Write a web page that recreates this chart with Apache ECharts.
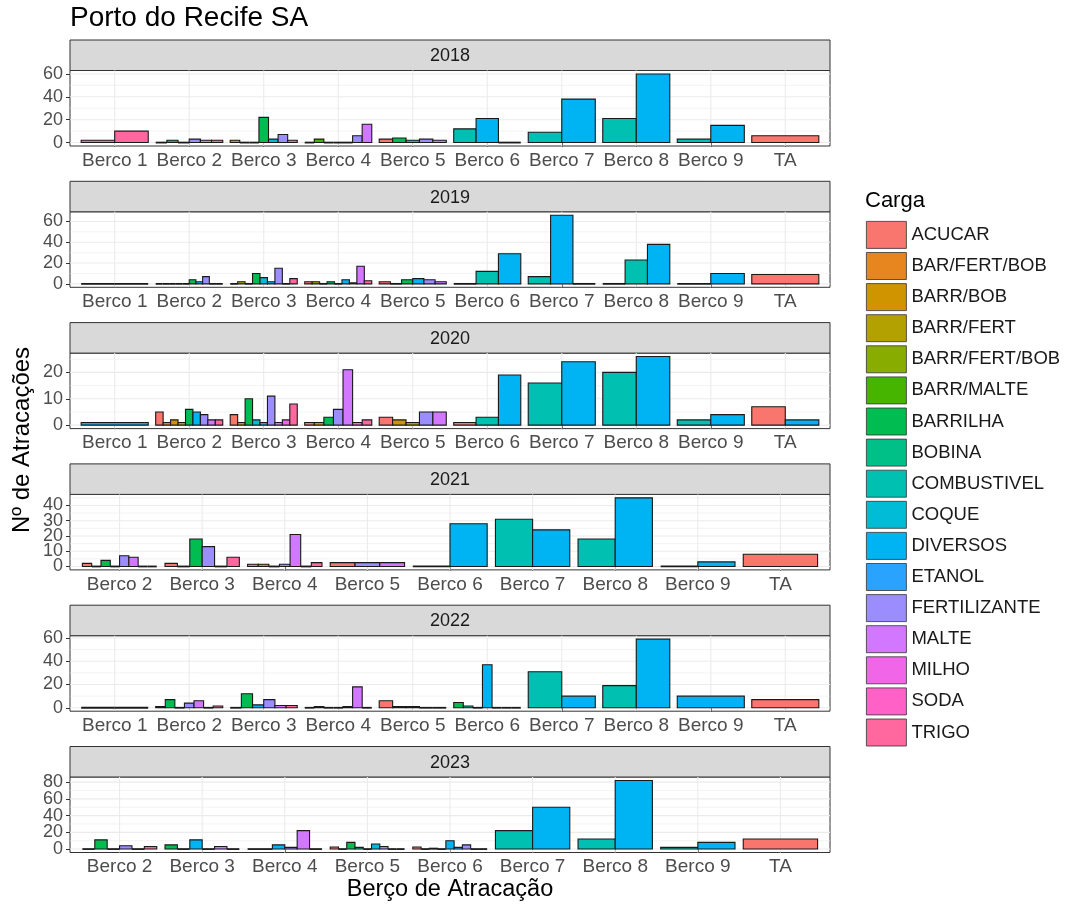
<!DOCTYPE html>
<html>
<head>
<meta charset="utf-8">
<title>Porto do Recife SA</title>
<script src="https://cdn.jsdelivr.net/npm/echarts@6/dist/echarts.min.js"></script>
<style>
  html, body { margin: 0; padding: 0; background: #fff; }
  #chart { width: 1066px; height: 905px; }
</style>
</head>
<body>
<div id="chart"></div>
<script>
// niveis da carga (ordem da legenda)
const cargas = ['ACUCAR', 'BAR/FERT/BOB', 'BARR/BOB', 'BARR/FERT', 'BARR/FERT/BOB', 'BARR/MALTE',
  'BARRILHA', 'BOBINA', 'COMBUSTIVEL', 'COQUE', 'DIVERSOS', 'ETANOL', 'FERTILIZANTE',
  'MALTE', 'MILHO', 'SODA', 'TRIGO'];

const anos = ['2018', '2019', '2020', '2021', '2022', '2023'];

const bercosCompleto = ['Berco 1', 'Berco 2', 'Berco 3', 'Berco 4', 'Berco 5', 'Berco 6', 'Berco 7', 'Berco 8', 'Berco 9', 'TA'];
const bercosSem1 = ['Berco 2', 'Berco 3', 'Berco 4', 'Berco 5', 'Berco 6', 'Berco 7', 'Berco 8', 'Berco 9', 'TA'];

const ticks2018 = [0, 20, 40, 60];
const ticks2019 = [0, 20, 40, 60];
const ticks2020 = [0, 10, 20];
const ticks2021 = [0, 10, 20, 30, 40];
const ticks2022 = [0, 20, 40, 60];
const ticks2023 = [0, 20, 40, 60, 80];

// [berco, carga, n de atracacoes]
const barras2018 = [
  ['Berco 1', 'SODA', 2], ['Berco 1', 'TRIGO', 10],
  ['Berco 2', 'BARR/FERT', 0], ['Berco 2', 'BARRILHA', 2], ['Berco 2', 'COQUE', 0], ['Berco 2', 'FERTILIZANTE', 3], ['Berco 2', 'MALTE', 2], ['Berco 2', 'TRIGO', 2],
  ['Berco 3', 'BARR/BOB', 2], ['Berco 3', 'BARR/FERT', 0], ['Berco 3', 'BARR/MALTE', 0], ['Berco 3', 'BARRILHA', 22], ['Berco 3', 'COQUE', 3], ['Berco 3', 'FERTILIZANTE', 7], ['Berco 3', 'TRIGO', 2],
  ['Berco 4', 'BARR/FERT', 0], ['Berco 4', 'BARR/MALTE', 3], ['Berco 4', 'BARRILHA', 0], ['Berco 4', 'BOBINA', 0], ['Berco 4', 'DIVERSOS', 0], ['Berco 4', 'FERTILIZANTE', 6], ['Berco 4', 'MALTE', 16],
  ['Berco 5', 'ACUCAR', 3], ['Berco 5', 'BARRILHA', 4], ['Berco 5', 'DIVERSOS', 2], ['Berco 5', 'FERTILIZANTE', 3], ['Berco 5', 'MALTE', 2],
  ['Berco 6', 'COMBUSTIVEL', 12], ['Berco 6', 'DIVERSOS', 21], ['Berco 6', 'ETANOL', 0],
  ['Berco 7', 'COMBUSTIVEL', 9], ['Berco 7', 'DIVERSOS', 38],
  ['Berco 8', 'COMBUSTIVEL', 21], ['Berco 8', 'DIVERSOS', 60],
  ['Berco 9', 'COMBUSTIVEL', 3], ['Berco 9', 'DIVERSOS', 15],
  ['TA', 'ACUCAR', 6]
];

const barras2019 = [
  ['Berco 1', 'SODA', 0], ['Berco 1', 'TRIGO', 0],
  ['Berco 2', 'ACUCAR', 0], ['Berco 2', 'BAR/FERT/BOB', 0], ['Berco 2', 'BARR/BOB', 0], ['Berco 2', 'BARR/FERT', 0], ['Berco 2', 'BARR/MALTE', 0],
  ['Berco 2', 'BARRILHA', 4], ['Berco 2', 'DIVERSOS', 2], ['Berco 2', 'FERTILIZANTE', 7], ['Berco 2', 'MALTE', 0], ['Berco 2', 'TRIGO', 0],
  ['Berco 3', 'BARR/BOB', 0], ['Berco 3', 'BARR/FERT', 2], ['Berco 3', 'BARR/MALTE', 0], ['Berco 3', 'BARRILHA', 10], ['Berco 3', 'COQUE', 6],
  ['Berco 3', 'DIVERSOS', 2], ['Berco 3', 'FERTILIZANTE', 15], ['Berco 3', 'MALTE', 0], ['Berco 3', 'TRIGO', 5],
  ['Berco 4', 'ACUCAR', 2], ['Berco 4', 'BARR/FERT', 2], ['Berco 4', 'BARR/MALTE', 0], ['Berco 4', 'BARRILHA', 2], ['Berco 4', 'COQUE', 0],
  ['Berco 4', 'DIVERSOS', 4], ['Berco 4', 'FERTILIZANTE', 1], ['Berco 4', 'MALTE', 17], ['Berco 4', 'TRIGO', 3],
  ['Berco 5', 'ACUCAR', 2], ['Berco 5', 'BARR/MALTE', 0], ['Berco 5', 'BARRILHA', 4], ['Berco 5', 'DIVERSOS', 5], ['Berco 5', 'FERTILIZANTE', 4], ['Berco 5', 'MALTE', 2],
  ['Berco 6', 'ACUCAR', 0], ['Berco 6', 'COMBUSTIVEL', 12], ['Berco 6', 'DIVERSOS', 29],
  ['Berco 7', 'COMBUSTIVEL', 7], ['Berco 7', 'DIVERSOS', 66], ['Berco 7', 'ETANOL', 0],
  ['Berco 8', 'ACUCAR', 0], ['Berco 8', 'COMBUSTIVEL', 23], ['Berco 8', 'DIVERSOS', 38],
  ['Berco 9', 'COMBUSTIVEL', 0], ['Berco 9', 'DIVERSOS', 10],
  ['TA', 'ACUCAR', 9]
];

const barras2020 = [
  ['Berco 1', 'DIVERSOS', 1],
  ['Berco 2', 'ACUCAR', 5], ['Berco 2', 'BAR/FERT/BOB', 1], ['Berco 2', 'BARR/BOB', 2], ['Berco 2', 'BARR/FERT', 1], ['Berco 2', 'BARRILHA', 6],
  ['Berco 2', 'DIVERSOS', 5], ['Berco 2', 'FERTILIZANTE', 4], ['Berco 2', 'MALTE', 2], ['Berco 2', 'TRIGO', 2],
  ['Berco 3', 'ACUCAR', 4], ['Berco 3', 'BARR/FERT', 1], ['Berco 3', 'BARRILHA', 10], ['Berco 3', 'COQUE', 2], ['Berco 3', 'DIVERSOS', 1],
  ['Berco 3', 'FERTILIZANTE', 11], ['Berco 3', 'MALTE', 1], ['Berco 3', 'MILHO', 2], ['Berco 3', 'TRIGO', 8],
  ['Berco 4', 'ACUCAR', 1], ['Berco 4', 'BARR/BOB', 1], ['Berco 4', 'BARRILHA', 3], ['Berco 4', 'FERTILIZANTE', 6], ['Berco 4', 'MALTE', 21], ['Berco 4', 'MILHO', 1], ['Berco 4', 'TRIGO', 2],
  ['Berco 5', 'ACUCAR', 3], ['Berco 5', 'BARR/BOB', 2], ['Berco 5', 'BARR/FERT', 1], ['Berco 5', 'FERTILIZANTE', 5], ['Berco 5', 'MALTE', 5],
  ['Berco 6', 'ACUCAR', 1], ['Berco 6', 'COMBUSTIVEL', 3], ['Berco 6', 'DIVERSOS', 19],
  ['Berco 7', 'COMBUSTIVEL', 16], ['Berco 7', 'DIVERSOS', 24],
  ['Berco 8', 'COMBUSTIVEL', 20], ['Berco 8', 'DIVERSOS', 26],
  ['Berco 9', 'COMBUSTIVEL', 2], ['Berco 9', 'DIVERSOS', 4],
  ['TA', 'ACUCAR', 7], ['TA', 'DIVERSOS', 2]
];

const barras2021 = [
  ['Berco 2', 'ACUCAR', 2], ['Berco 2', 'BARR/FERT', 0], ['Berco 2', 'BARRILHA', 4], ['Berco 2', 'DIVERSOS', 0],
  ['Berco 2', 'FERTILIZANTE', 7], ['Berco 2', 'MALTE', 6], ['Berco 2', 'SODA', 0], ['Berco 2', 'TRIGO', 0],
  ['Berco 3', 'ACUCAR', 2], ['Berco 3', 'BARR/FERT', 0], ['Berco 3', 'BARRILHA', 18], ['Berco 3', 'FERTILIZANTE', 13], ['Berco 3', 'MALTE', 0], ['Berco 3', 'TRIGO', 6],
  ['Berco 4', 'ACUCAR', 1.5], ['Berco 4', 'BARR/FERT', 1.5], ['Berco 4', 'BARRILHA', 0], ['Berco 4', 'FERTILIZANTE', 1.5], ['Berco 4', 'MALTE', 21], ['Berco 4', 'SODA', 0], ['Berco 4', 'TRIGO', 2.5],
  ['Berco 5', 'ACUCAR', 2.5], ['Berco 5', 'FERTILIZANTE', 2.5], ['Berco 5', 'MALTE', 2.5],
  ['Berco 6', 'COMBUSTIVEL', 0], ['Berco 6', 'DIVERSOS', 28],
  ['Berco 7', 'COMBUSTIVEL', 31], ['Berco 7', 'DIVERSOS', 24],
  ['Berco 8', 'COMBUSTIVEL', 18], ['Berco 8', 'DIVERSOS', 45],
  ['Berco 9', 'COMBUSTIVEL', 0], ['Berco 9', 'DIVERSOS', 3],
  ['TA', 'ACUCAR', 8]
];

const barras2022 = [
  ['Berco 1', 'SODA', 0], ['Berco 1', 'TRIGO', 0],
  ['Berco 2', 'ACUCAR', 1], ['Berco 2', 'BARRILHA', 7], ['Berco 2', 'DIVERSOS', 0], ['Berco 2', 'FERTILIZANTE', 4], ['Berco 2', 'MALTE', 6], ['Berco 2', 'SODA', 0], ['Berco 2', 'TRIGO', 1.5],
  ['Berco 3', 'BARR/FERT', 0], ['Berco 3', 'BARRILHA', 12], ['Berco 3', 'DIVERSOS', 2.5], ['Berco 3', 'FERTILIZANTE', 7], ['Berco 3', 'MALTE', 2], ['Berco 3', 'TRIGO', 2],
  ['Berco 4', 'BARR/FERT', 0], ['Berco 4', 'BARRILHA', 1], ['Berco 4', 'COMBUSTIVEL', 0], ['Berco 4', 'DIVERSOS', 0], ['Berco 4', 'FERTILIZANTE', 1], ['Berco 4', 'MALTE', 18], ['Berco 4', 'TRIGO', 0],
  ['Berco 5', 'ACUCAR', 6], ['Berco 5', 'BARRILHA', 1], ['Berco 5', 'FERTILIZANTE', 1], ['Berco 5', 'MALTE', 0], ['Berco 5', 'TRIGO', 0],
  ['Berco 6', 'BARRILHA', 4.5], ['Berco 6', 'COMBUSTIVEL', 1.5], ['Berco 6', 'COQUE', 0], ['Berco 6', 'DIVERSOS', 37],
  ['Berco 6', 'FERTILIZANTE', 0], ['Berco 6', 'MALTE', 0], ['Berco 6', 'TRIGO', 0],
  ['Berco 7', 'COMBUSTIVEL', 31], ['Berco 7', 'DIVERSOS', 10],
  ['Berco 8', 'COMBUSTIVEL', 19], ['Berco 8', 'DIVERSOS', 59],
  ['Berco 9', 'DIVERSOS', 10],
  ['TA', 'ACUCAR', 7]
];

const barras2023 = [
  ['Berco 2', 'BARR/FERT', 0], ['Berco 2', 'BARRILHA', 11], ['Berco 2', 'COQUE', 0], ['Berco 2', 'FERTILIZANTE', 4], ['Berco 2', 'SODA', 0], ['Berco 2', 'TRIGO', 3],
  ['Berco 3', 'BARRILHA', 5], ['Berco 3', 'COMBUSTIVEL', 0], ['Berco 3', 'DIVERSOS', 11], ['Berco 3', 'FERTILIZANTE', 0], ['Berco 3', 'MALTE', 3], ['Berco 3', 'TRIGO', 0],
  ['Berco 4', 'BARRILHA', 0], ['Berco 4', 'COMBUSTIVEL', 0], ['Berco 4', 'DIVERSOS', 5], ['Berco 4', 'FERTILIZANTE', 2], ['Berco 4', 'MALTE', 22], ['Berco 4', 'TRIGO', 0],
  ['Berco 5', 'ACUCAR', 2.5], ['Berco 5', 'BARR/FERT', 0], ['Berco 5', 'BARRILHA', 8], ['Berco 5', 'BOBINA', 2], ['Berco 5', 'COQUE', 0],
  ['Berco 5', 'DIVERSOS', 6], ['Berco 5', 'FERTILIZANTE', 3], ['Berco 5', 'MALTE', 0], ['Berco 5', 'TRIGO', 0],
  ['Berco 6', 'ACUCAR', 2.5], ['Berco 6', 'BAR/FERT/BOB', 0], ['Berco 6', 'BARRILHA', 1], ['Berco 6', 'COQUE', 0], ['Berco 6', 'DIVERSOS', 10],
  ['Berco 6', 'ETANOL', 2], ['Berco 6', 'FERTILIZANTE', 5], ['Berco 6', 'MALTE', 0], ['Berco 6', 'TRIGO', 0],
  ['Berco 7', 'COMBUSTIVEL', 22], ['Berco 7', 'DIVERSOS', 50],
  ['Berco 8', 'COMBUSTIVEL', 12], ['Berco 8', 'DIVERSOS', 82],
  ['Berco 9', 'COMBUSTIVEL', 2], ['Berco 9', 'DIVERSOS', 8],
  ['TA', 'ACUCAR', 12]
];

const facetas = [
  { ano: anos[0], bercos: bercosCompleto, barras: barras2018, ticks: ticks2018 },
  { ano: anos[1], bercos: bercosCompleto, barras: barras2019, ticks: ticks2019 },
  { ano: anos[2], bercos: bercosCompleto, barras: barras2020, ticks: ticks2020 },
  { ano: anos[3], bercos: bercosSem1, barras: barras2021, ticks: ticks2021 },
  { ano: anos[4], bercos: bercosCompleto, barras: barras2022, ticks: ticks2022 },
  { ano: anos[5], bercos: bercosSem1, barras: barras2023, ticks: ticks2023 }
];

// paleta hue do ggplot (hcl, c = 100, l = 65)
function hclHex (h, c, l) {
  const Xn = 95.047, Yn = 100, Zn = 108.883;
  const un = 4 * Xn / (Xn + 15 * Yn + 3 * Zn);
  const vn = 9 * Yn / (Xn + 15 * Yn + 3 * Zn);
  const hr = h * Math.PI / 180;
  const Y = Yn * (l > 8 ? Math.pow((l + 16) / 116, 3) : l / 903.3);
  const u = c * Math.cos(hr) / (13 * l) + un;
  const v = c * Math.sin(hr) / (13 * l) + vn;
  const X = 9 * Y * u / (4 * v);
  const Z = Y * (12 - 3 * u - 20 * v) / (4 * v);
  const lin = [
    (3.240479 * X - 1.537150 * Y - 0.498535 * Z) / 100,
    (-0.969256 * X + 1.875992 * Y + 0.041556 * Z) / 100,
    (0.055648 * X - 0.204043 * Y + 1.057311 * Z) / 100
  ];
  return '#' + lin.map(function (t) {
    let s = t <= 0.0031308 ? 12.92 * t : 1.055 * Math.pow(t, 1 / 2.4) - 0.055;
    s = Math.max(0, Math.min(1, s));
    return ('0' + Math.round(s * 255).toString(16)).slice(-2);
  }).join('');
}
const cores = cargas.map(function (c, i) { return hclHex(15 + 360 * i / cargas.length, 100, 65); });

const fonte = "'Liberation Sans', Arial, sans-serif";
const painelEsq = 70, painelLarg = 760;
const faixaTopo0 = 40, passo = 141.3, faixaAlt = 30.5, painelAlt = 75.5;

function renderBarra (params, api) {
  const x = api.value(0), v = api.value(1), k = api.value(2), n = api.value(3), c = api.value(4);
  const total = api.size([1, 0])[0] * 0.9;
  const w = total / n;
  const p0 = api.coord([x, 0]);
  const p1 = api.coord([x, v]);
  const left = p0[0] - total / 2 + k * w;
  const h = p0[1] - p1[1];
  if (h < 0.8) {
    return {
      type: 'line',
      shape: { x1: left, y1: p0[1], x2: left + w, y2: p0[1] },
      style: { stroke: '#1a1a1a', lineWidth: 1.8 }
    };
  }
  return {
    type: 'rect',
    shape: { x: left, y: p1[1], width: w, height: h },
    style: { fill: cores[c], stroke: '#1a1a1a', lineWidth: 1.1 }
  };
}

// grade: 0 = vertical, 1 = horizontal maior, 2 = horizontal menor, 3 = rotulo do eixo y
function renderGrade (params, api) {
  const tipo = api.value(0), v = api.value(1);
  const cs = params.coordSys;
  if (tipo === 0) {
    const px = api.coord([v, 0])[0];
    return { type: 'line', shape: { x1: px, y1: cs.y, x2: px, y2: cs.y + cs.height }, style: { stroke: '#EBEBEB', lineWidth: 1.1 } };
  }
  const py = api.coord([1, v])[1];
  if (tipo === 3) {
    return {
      type: 'text', x: cs.x - 7, y: py,
      style: { text: String(v), fill: '#4D4D4D', fontSize: 18, fontFamily: fonte, align: 'right', verticalAlign: 'middle' }
    };
  }
  return {
    type: 'line',
    shape: { x1: cs.x, y1: py, x2: cs.x + cs.width, y2: py },
    style: { stroke: '#EBEBEB', lineWidth: tipo === 1 ? 1.1 : 0.6 }
  };
}

const grids = [], xAxes = [], yAxes = [], series = [], graficos = [];

graficos.push({
  type: 'text', x: 70, y: 18,
  style: { text: 'Porto do Recife SA', fill: '#000', fontSize: 28, fontFamily: fonte, align: 'left', verticalAlign: 'middle' }
});

facetas.forEach(function (f, i) {
  const faixaTopo = faixaTopo0 + i * passo;
  const painelTopo = faixaTopo + faixaAlt;
  const maximo = Math.max.apply(null, f.barras.map(function (b) { return b[2]; }));
  const yMin = -0.05 * maximo, yMax = 1.05 * maximo;
  const n = f.bercos.length;
  const posX = f.bercos.map(function (b, j) { return j + 1; });

  grids.push({
    left: painelEsq, top: painelTopo, width: painelLarg, height: painelAlt,
    show: true, borderColor: '#333333', borderWidth: 1, backgroundColor: '#fff'
  });
  xAxes.push({
    type: 'value', gridIndex: i, min: 0.4, max: n + 0.6,
    axisLine: { show: false }, splitLine: { show: false },
    axisTick: { show: true, customValues: posX, length: 4, lineStyle: { color: '#333333' } },
    axisLabel: {
      customValues: posX, margin: 5, color: '#4D4D4D', fontSize: 19, fontFamily: fonte,
      showMinLabel: true, showMaxLabel: true, hideOverlap: false,
      formatter: function (val) { return f.bercos[Math.round(val) - 1] || ''; }
    }
  });
  yAxes.push({
    type: 'value', gridIndex: i, min: yMin, max: yMax,
    axisLine: { show: false }, splitLine: { show: false },
    axisTick: { show: true, customValues: f.ticks, length: 4, lineStyle: { color: '#333333' } },
    axisLabel: { show: false }
  });

  // linhas de grade (maiores e menores) e rotulos do eixo y
  const grade = posX.map(function (p) { return [0, p]; });
  f.ticks.forEach(function (t) { grade.push([1, t]); });
  const meio = (f.ticks[1] - f.ticks[0]) / 2;
  f.ticks.forEach(function (t) {
    if (t + meio < yMax) grade.push([2, t + meio]);
  });
  f.ticks.forEach(function (t) { grade.push([3, t]); });
  series.push({
    type: 'custom', xAxisIndex: i, yAxisIndex: i, z: 1, silent: true, clip: false,
    renderItem: renderGrade, data: grade
  });

  // barras lado a lado (dodge) por berco
  const dados = [];
  f.bercos.forEach(function (b, j) {
    const doBerco = f.barras.filter(function (r) { return r[0] === b; })
      .sort(function (a, c) { return cargas.indexOf(a[1]) - cargas.indexOf(c[1]); });
    doBerco.forEach(function (r, k) {
      dados.push([j + 1, r[2], k, doBerco.length, cargas.indexOf(r[1])]);
    });
  });
  series.push({
    type: 'custom', xAxisIndex: i, yAxisIndex: i, z: 2,
    renderItem: renderBarra, encode: { x: 0, y: 1 }, data: dados
  });

  graficos.push({
    type: 'rect', shape: { x: painelEsq, y: faixaTopo, width: painelLarg, height: faixaAlt },
    style: { fill: '#D9D9D9', stroke: '#333333', lineWidth: 1 }
  });
  graficos.push({
    type: 'text', x: painelEsq + painelLarg / 2, y: faixaTopo + faixaAlt / 2 + 1,
    style: { text: f.ano, fill: '#1A1A1A', fontSize: 18, fontFamily: fonte, align: 'center', verticalAlign: 'middle' }
  });
});

// series vazias so para a legenda
cargas.forEach(function (c, i) {
  series.push({ type: 'scatter', name: c, xAxisIndex: 0, yAxisIndex: 0, data: [], itemStyle: { color: cores[i], opacity: 1 } });
});

graficos.push({
  type: 'text', x: painelEsq + painelLarg / 2, y: 890,
  style: { text: 'Berço de Atracação', fill: '#000', fontSize: 23.5, fontFamily: fonte, align: 'center', verticalAlign: 'middle' }
});
graficos.push({
  type: 'text', x: 22, y: 440, rotation: Math.PI / 2,
  style: { text: 'Nº de Atracações', fill: '#000', fontSize: 24, fontFamily: fonte, align: 'center', verticalAlign: 'middle' }
});
graficos.push({
  type: 'text', x: 865, y: 201,
  style: { text: 'Carga', fill: '#000', fontSize: 22, fontFamily: fonte, align: 'left', verticalAlign: 'middle' }
});

const chart = echarts.init(document.getElementById('chart'));
chart.setOption({
  animation: false,
  backgroundColor: '#fff',
  grid: grids,
  xAxis: xAxes,
  yAxis: yAxes,
  series: series,
  legend: {
    orient: 'vertical', left: 866, top: 221, padding: 0,
    itemWidth: 40, itemHeight: 27, itemGap: 3.3, icon: 'rect', selectedMode: false,
    itemStyle: { borderColor: '#333333', borderWidth: 0.8, opacity: 1 },
    textStyle: { fontSize: 18.5, color: '#1A1A1A', fontFamily: fonte },
    data: cargas
  },
  graphic: graficos
});
</script>
</body>
</html>
